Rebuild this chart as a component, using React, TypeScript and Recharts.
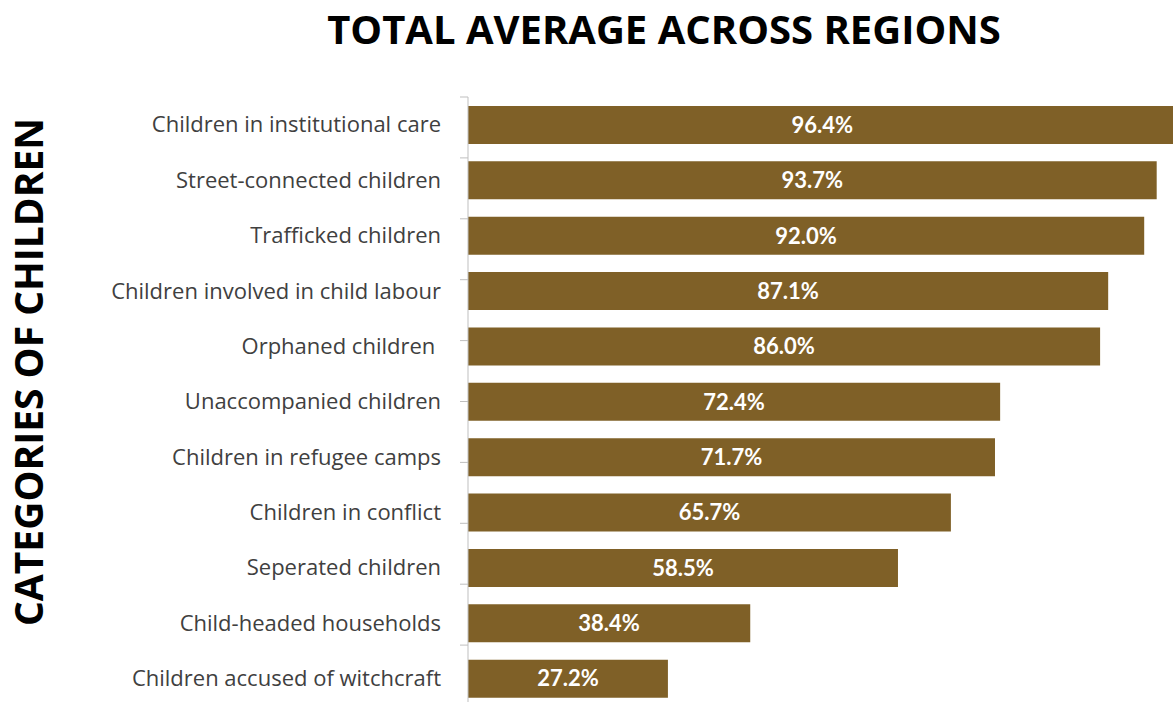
import React from 'react';
import { BarChart, Bar, XAxis, YAxis, LabelList } from 'recharts';

const categories = [
  'Children in institutional care',
  'Street-connected children',
  'Trafficked children',
  'Children involved in child labour',
  'Orphaned children\u00A0',
  'Unaccompanied children',
  'Children in refugee camps',
  'Children in conflict',
  'Seperated children',
  'Child-headed households',
  'Children accused of witchcraft',
];
const averages = [96.4, 93.7, 92.0, 87.1, 86.0, 72.4, 71.7, 65.7, 58.5, 38.4, 27.2];
// tick marks sit on the band edges, not the band centres
const bandEdges = [0, 1, 2, 3, 4, 5, 6, 7, 8, 9, 10, 11];

const rows = categories.map((name, i) => ({ name, value: averages[i] }));

const barColor = '#7F6027';
const axisGrey = '#BFBFBF';

// short outward tick drawn at each band edge
const EdgeTick = (props: any) => {
  const { x, y } = props;
  return <line x1={x - 8} x2={x} y1={y} y2={y} stroke={axisGrey} strokeWidth={1} />;
};

export default function App() {
  return (
    <div
      style={{
        position: 'absolute',
        left: 0,
        top: 0,
        width: 1173,
        height: 702,
        overflow: 'hidden',
        background: '#fff',
      }}
    >
      <div
        style={{
          position: 'absolute',
          left: 664,
          top: 9,
          transform: 'translateX(-50%)',
          whiteSpace: 'nowrap',
          fontFamily: '"Open Sans", sans-serif',
          fontWeight: 700,
          fontSize: 40,
          lineHeight: 1,
          color: '#000',
        }}
      >
        TOTAL AVERAGE ACROSS REGIONS
      </div>
      <div
        style={{
          position: 'absolute',
          left: 27,
          top: 372,
          transform: 'translate(-50%, -50%) rotate(-90deg)',
          whiteSpace: 'nowrap',
          fontFamily: '"Open Sans", sans-serif',
          fontWeight: 700,
          fontSize: 39,
          lineHeight: 1,
          color: '#000',
        }}
      >
        CATEGORIES OF CHILDREN
      </div>
      <BarChart
        width={1210}
        height={712}
        data={rows}
        layout="vertical"
        margin={{ top: 97, right: 7, bottom: 6, left: 0 }}
      >
        <XAxis type="number" domain={[0, 100]} hide />
        <YAxis
          type="category"
          dataKey="name"
          width={468}
          interval={0}
          axisLine={false}
          tickLine={false}
          tickMargin={21}
          tick={{ fill: '#404040', fontSize: 22, fontFamily: '"Open Sans", sans-serif' }}
        />
        <YAxis
          yAxisId="edges"
          type="number"
          domain={[0, 11]}
          ticks={bandEdges}
          interval={0}
          mirror
          width={8}
          tickSize={0}
          tickMargin={0}
          tick={EdgeTick}
          tickLine={false}
          axisLine={{ stroke: axisGrey }}
        />
        <Bar dataKey="value" fill={barColor} barSize={38} isAnimationActive={false}>
          <LabelList
            dataKey="value"
            position="center"
            formatter={(v: number) => `${v.toFixed(1)}%`}
            fill="#FFFFFF"
            style={{ fontFamily: 'Lato, sans-serif', fontWeight: 700, fontSize: 22 }}
          />
        </Bar>
      </BarChart>
    </div>
  );
}
